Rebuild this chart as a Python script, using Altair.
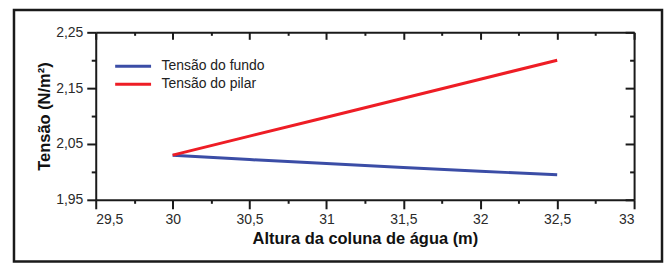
import altair as alt
import pandas as pd

# ---- data ----
altura = [30.0, 30.5, 31.0, 31.5, 32.0, 32.5]
tensao_fundo = [2.030, 2.022, 2.015, 2.008, 2.001, 1.995]
tensao_pilar = [2.030, 2.064, 2.098, 2.132, 2.166, 2.200]
series_names = ["Tensão do fundo", "Tensão do pilar"]
series_colors = ["#3B4DA6", "#EE1D25"]

x_major = [29.5, 30, 30.5, 31, 31.5, 32, 32.5, 33]
x_minor = [29.75, 30.25, 30.75, 31.25, 31.75, 32.25, 32.75]
y_major = [1.95, 2.05, 2.15, 2.25]
y_minor = [2.00, 2.10, 2.20]

df = pd.DataFrame({
    "x": altura * 2,
    "y": tensao_fundo + tensao_pilar,
    "s": [series_names[0]] * len(altura) + [series_names[1]] * len(altura),
})

W, H = 540, 168
FONT = "Liberation Sans"

xs = alt.Scale(domain=[29.5, 33], nice=False, zero=False)
ys = alt.Scale(domain=[1.95, 2.25], nice=False, zero=False)

comma = "replace(format(datum.value, ''), '.', ',')"
comma2 = "replace(format(datum.value, '.2f'), '.', ',')"

lines = alt.Chart(df).mark_line(strokeWidth=3).encode(
    x=alt.X("x:Q", scale=xs, axis=alt.Axis(
        orient="bottom", values=x_major, labelExpr=comma, tickSize=9,
        title="Altura da coluna de água (m)", titlePadding=4, labelPadding=4)),
    y=alt.Y("y:Q", scale=ys, axis=alt.Axis(
        orient="left", values=y_major, labelExpr=comma2, tickSize=9,
        title="Tensão (N/m²)", titlePadding=3, labelPadding=4)),
    color=alt.Color("s:N", scale=alt.Scale(domain=series_names, range=series_colors),
                    legend=alt.Legend(orient="none", legendX=18, legendY=25, title=None,
                                      symbolType="stroke", symbolSize=1296,
                                      symbolStrokeWidth=3, clipHeight=18, rowPadding=0,
                                      labelOffset=9, labelFontSize=14, labelFont=FONT,
                                      labelColor="#222", padding=0)),
)

def ghost(xaxis, yaxis):
    return alt.Chart(df).mark_line(opacity=0).encode(
        x=alt.X("x:Q", scale=xs, axis=xaxis),
        y=alt.Y("y:Q", scale=ys, axis=yaxis),
        detail="s:N",
    )

minor_ax = dict(labels=False, domain=False, title=None)
bl_minor = ghost(
    alt.Axis(orient="bottom", values=x_minor, tickSize=3.5, **minor_ax),
    alt.Axis(orient="left", values=y_minor, tickSize=4.5, **minor_ax),
)
tr_major = ghost(
    alt.Axis(orient="bottom", offset=-H, values=x_major, tickSize=7, labels=False, title=None),
    alt.Axis(orient="left", offset=-W, values=y_major, tickSize=9, labels=False, title=None),
)
tr_minor = ghost(
    alt.Axis(orient="bottom", offset=-H, values=x_minor, tickSize=3, **minor_ax),
    alt.Axis(orient="left", offset=-W, values=y_minor, tickSize=4.5, **minor_ax),
)

frame = alt.Chart(pd.DataFrame({"a": [0]})).mark_rect(
    fill="transparent", stroke="#1a1a1a", strokeWidth=2.5
).encode(
    x=alt.value(-82), x2=alt.value(568), y=alt.value(-22.5), y2=alt.value(230)
)

chart = alt.layer(bl_minor, tr_major, tr_minor, lines, frame).resolve_axis(
    x="independent", y="independent"
).properties(
    width=W, height=H,
    autosize=alt.AutoSizeParams(type="none"),
    padding={"left": 88, "top": 24, "right": 30, "bottom": 64},
).configure_view(stroke=None).configure_axis(
    domainColor="#1a1a1a", domainWidth=2, tickColor="#1a1a1a", tickWidth=2,
    labelFont=FONT, labelFontSize=14, labelColor="#2a2a2a",
    titleFont=FONT, titleFontSize=16.5, titleFontWeight="bold", titleColor="#111",
    grid=False,
)

chart.save("out.html", embed_options={"renderer": "svg", "actions": False})
